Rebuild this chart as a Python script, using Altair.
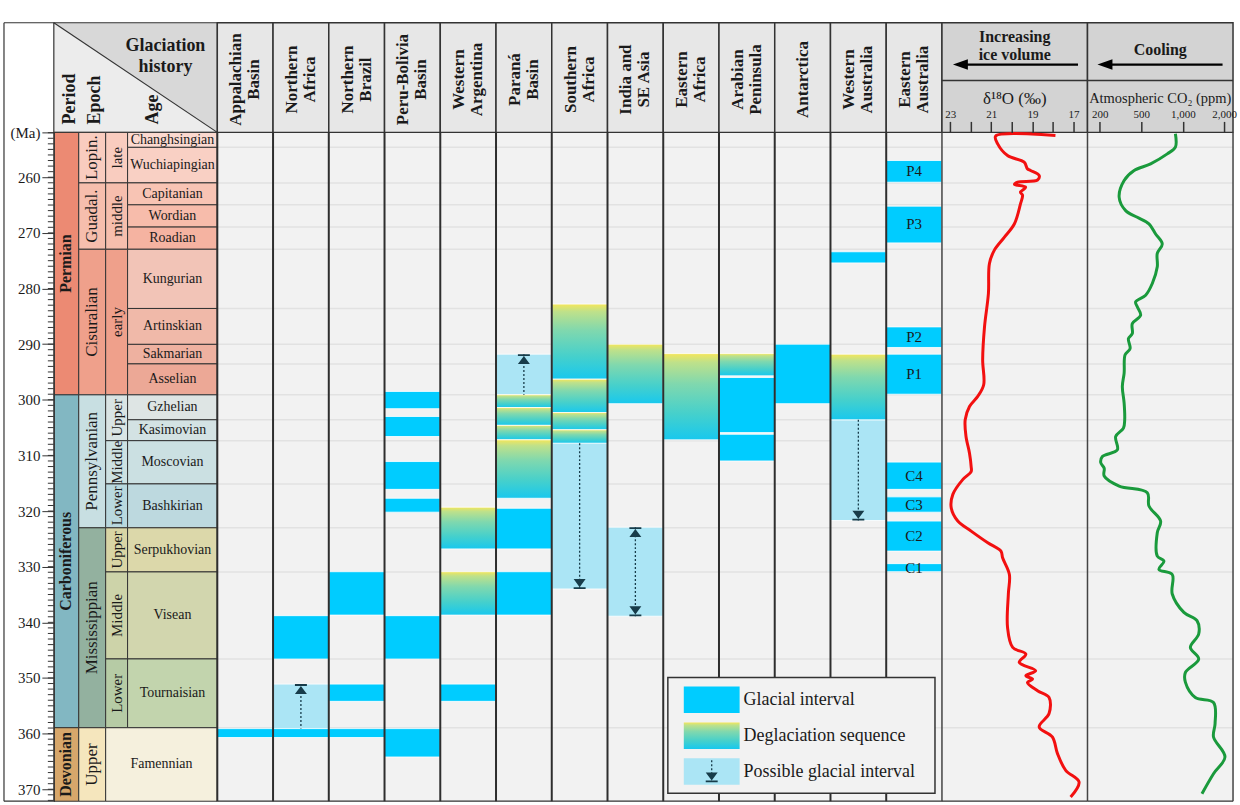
import altair as alt
import pandas as pd

SERIF = "Liberation Serif"
H = 671
HEAD_H = 110
W_STRAT = 164
W_REG = 727
W_CUR = 146
Y_DOMAIN = [251.94, 372.15]
INK = "#1a1a1a"
LINE = "#333333"
ARROW_C = "#173c4a"
GLACIAL = "#00ccff"
POSSIBLE = "#abe5f5"

# ---------------- chronostratigraphy (Ma) ----------------
PERIOD_NAMES = ["Permian", "Carboniferous", "Devonian"]
PERIOD_BOUNDS = [251.94, 299.11, 358.94, 372.15]
PERIOD_COLORS = ["#ec8a73", "#82b7c2", "#d7a76b"]

EPOCH_NAMES = ["Lopin.", "Guadal.", "Cisuralian", "Pennsylvanian", "Mississippian", "Upper"]
EPOCH_BOUNDS = [251.94, 261.02, 272.95, 299.11, 323.01, 358.94, 372.15]
EPOCH_COLORS = ["#f9ccbf", "#f6bead", "#efa08b", "#c8dfe2", "#93b19f", "#f5e6bd"]

SUB_NAMES = ["late", "middle", "early", "Upper", "Middle", "Lower", "Upper", "Middle", "Lower"]
SUB_BOUNDS = [251.94, 261.02, 272.95, 299.11, 307.35, 315.12, 323.01, 330.94, 346.58, 358.94]
SUB_COLORS = ["#f9ccbf", "#f6bead", "#efa08b", "#d9e4e4", "#cde1e2", "#b9d8de",
              "#d9d5a5", "#cdd3a9", "#b6cba5"]

AGE_NAMES = ["Changhsingian", "Wuchiapingian", "Capitanian", "Wordian", "Roadian",
             "Kungurian", "Artinskian", "Sakmarian", "Asselian", "Gzhelian", "Kasimovian",
             "Moscovian", "Bashkirian", "Serpukhovian", "Visean", "Tournaisian", "Famennian"]
AGE_BOUNDS = [251.94, 254.63, 261.02, 264.96, 268.96, 272.95, 283.59, 290.04, 293.55,
              299.11, 303.59, 307.35, 315.12, 323.01, 330.94, 346.58, 358.94, 372.15]
AGE_COLORS = ["#fbd9cf", "#f9d0c4", "#f8c4b4", "#f7bcab", "#f5b3a1", "#f2c4b7", "#f0b9a9",
              "#eeb1a0", "#eca896", "#dee5e4", "#d3e2e3", "#cbe0e2", "#bdd9df", "#dcd8aa",
              "#d2d6ae", "#c2d4ad", "#f5f0dd"]

Y_MAJOR = [252, 260, 270, 280, 290, 300, 310, 320, 330, 340, 350, 360, 370]
Y_MINOR = list(range(252, 373))

# ---------------- regions and glacial records ----------------
REGIONS = ["Appalachian Basin", "Northern Africa", "Northern Brazil", "Peru-Bolivia Basin",
           "Western Argentina", "Paraná Basin", "Southern Africa", "India and SE Asia",
           "Eastern Africa", "Arabian Peninsula", "Antarctica", "Western Australia",
           "Eastern Australia"]
REGION_LABELS = ["Appalachian\nBasin", "Northern\nAfrica", "Northern\nBrazil",
                 "Peru-Bolivia\nBasin", "Western\nArgentina", "Paraná\nBasin",
                 "Southern\nAfrica", "India and\nSE Asia", "Eastern\nAfrica",
                 "Arabian\nPeninsula", "Antarctica", "Western\nAustralia", "Eastern\nAustralia"]

# kind: G = glacial interval, D = deglaciation sequence, P = possible glacial interval
INT_REGION = ["Appalachian Basin",
              "Northern Africa", "Northern Africa", "Northern Africa",
              "Northern Brazil", "Northern Brazil", "Northern Brazil",
              "Peru-Bolivia Basin", "Peru-Bolivia Basin", "Peru-Bolivia Basin",
              "Peru-Bolivia Basin", "Peru-Bolivia Basin", "Peru-Bolivia Basin",
              "Western Argentina", "Western Argentina", "Western Argentina",
              "Paraná Basin", "Paraná Basin", "Paraná Basin", "Paraná Basin",
              "Paraná Basin", "Paraná Basin", "Paraná Basin",
              "Southern Africa", "Southern Africa", "Southern Africa", "Southern Africa",
              "Southern Africa",
              "India and SE Asia", "India and SE Asia",
              "Eastern Africa",
              "Arabian Peninsula", "Arabian Peninsula", "Arabian Peninsula",
              "Antarctica",
              "Western Australia", "Western Australia", "Western Australia",
              "Eastern Australia", "Eastern Australia", "Eastern Australia",
              "Eastern Australia", "Eastern Australia", "Eastern Australia",
              "Eastern Australia", "Eastern Australia"]
INT_KIND = ["G",
            "G", "P", "G",
            "G", "G", "G",
            "G", "G", "G", "G", "G", "G",
            "D", "D", "G",
            "P", "D", "D", "D", "D", "G", "G",
            "D", "D", "D", "D", "P",
            "D", "P",
            "D",
            "D", "G", "G",
            "G",
            "G", "D", "P",
            "G", "G", "G", "G", "G", "G", "G", "G"]
INT_TOP = [359.1,
           338.8, 351.1, 359.1,
           330.9, 351.1, 359.1,
           298.5, 303.0, 311.1, 317.7, 338.8, 359.1,
           319.3, 330.9, 351.1,
           291.8, 299.1, 301.4, 304.6, 307.2, 319.5, 330.9,
           282.8, 296.3, 302.3, 305.4, 307.8,
           290.0, 322.9,
           291.7,
           291.7, 296.0, 306.2,
           290.0,
           273.4, 291.8, 303.6,
           257.0, 265.2, 286.9, 291.8, 311.2, 317.45, 321.8, 329.45]
INT_BASE = [360.7,
            346.6, 359.1, 360.7,
            338.7, 354.2, 360.7,
            301.6, 306.6, 316.1, 320.2, 346.6, 364.2,
            326.8, 338.7, 354.2,
            299.1, 301.4, 304.6, 307.2, 317.7, 326.8, 338.7,
            296.3, 302.3, 305.4, 307.8, 334.0,
            300.7, 338.9,
            307.2,
            295.7, 305.9, 311.0,
            300.7,
            275.4, 303.6, 321.7,
            260.9, 271.8, 290.6, 299.0, 316.1, 320.2, 327.2, 330.9]
INT_LABEL = [""] * 38 + ["P4", "P3", "P2", "P1", "C4", "C3", "C2", "C1"]

ARROW_REGION = ["Northern Africa", "Paraná Basin", "Southern Africa", "India and SE Asia",
                "India and SE Asia", "Western Australia"]
ARROW_AGE = [351.1, 291.8, 334.0, 322.9, 338.9, 321.7]
ARROW_DIR = ["up", "up", "down", "up", "down", "down"]

LEGEND_LABELS = ["Glacial interval", "Deglaciation sequence", "Possible glacial interval"]

# ---------------- proxy curves ----------------
D18O_AGE = [252.5, 252.6, 254.0, 256.1, 257.3, 258.5, 258.8, 259.7, 260.5, 260.9, 261.3,
            261.8, 262.7, 263.2, 264.8, 268.4, 270.8, 273.1, 275.5, 280.9, 286.9, 292.8,
            297.3, 299.4, 301.2, 303.6, 306.6, 309.6, 312.0, 312.9, 314.3, 317.0, 319.4,
            321.8, 323.6, 325.7, 327.2, 328.4, 331.4, 334.9, 340.9, 344.5, 345.7, 347.2,
            348.7, 349.6, 350.2, 350.8, 352.3, 353.5, 356.4, 358.8, 360.6, 363.6, 366.6,
            368.7, 371.4]
D18O_VAL = [17.88, 20.79, 20.69, 20.21, 19.40, 19.24, 19.09, 18.67, 18.75, 19.72, 19.87,
            19.33, 19.58, 19.48, 19.58, 19.88, 20.37, 20.85, 21.09, 21.14, 21.33, 21.42,
            21.37, 21.66, 22.06, 22.27, 22.23, 22.06, 21.98, 21.98, 22.38, 22.87, 22.95,
            22.63, 21.98, 21.17, 20.53, 20.45, 20.12, 20.17, 20.21, 19.96, 19.32, 19.64,
            18.84, 19.32, 18.99, 19.24, 18.75, 18.19, 18.19, 18.67, 18.03, 17.78, 17.38,
            16.73, 17.14]

CO2_AGE = [252.2, 254.6, 255.8, 257.6, 258.8, 260.6, 263.6, 266.0, 267.2, 268.4, 270.2,
           272.0, 273.7, 276.1, 279.1, 281.2, 282.4, 283.3, 284.8, 286.3, 288.1, 289.0,
           290.8, 291.9, 295.2, 297.6, 300.6, 303.6, 305.1, 306.6, 309.0, 310.2, 311.3,
           312.3, 313.7, 315.5, 316.7, 319.1, 321.8, 323.9, 328.1, 329.0, 330.5, 331.4,
           334.9, 338.2, 339.7, 342.1, 344.5, 346.6, 349.0, 350.8, 353.5, 354.4, 358.2,
           360.6, 364.2, 367.2, 370.8]
CO2_VAL = [910, 910, 812, 612, 448, 376, 340, 387, 471, 592, 672, 752, 692, 692, 632, 552,
           459, 471, 495, 435, 435, 407, 419, 383, 376, 363, 376, 380, 371, 315, 327, 219,
           207, 232, 232, 340, 572, 592, 732, 692, 692, 772, 712, 872, 872, 1024, 1343,
           1384, 1182, 1384, 1062, 1062, 1302, 1744, 1782, 1744, 2022, 1744, 1463]

D18O_TICKS = [23, 22, 21, 20, 19, 18, 17]
CO2_TICKS = [200, 500, 1000, 2000]

# ---------------- helpers ----------------
one = pd.DataFrame({"k": [0]})


def ysc():
    return alt.Scale(domain=Y_DOMAIN, reverse=True, nice=False, zero=False)


def Y(field, axis=None):
    return alt.Y(f"{field}:Q", scale=ysc(), axis=axis)


reg_scale = alt.Scale(domain=REGIONS, paddingInner=0, paddingOuter=0)


def XR(**kw):
    return alt.X("region:N", scale=reg_scale, axis=None, **kw)


def hy(v):
    """header-band pixel position (header sits above the plot area)"""
    return v - HEAD_H


GRAD = alt.Gradient(
    gradient="linear", x1=0, x2=0, y1=0, y2=1,
    stops=[alt.GradientStop(color="#f4e65a", offset=0),
           alt.GradientStop(color="#bfe18a", offset=0.1),
           alt.GradientStop(color="#80d8ae", offset=0.35),
           alt.GradientStop(color="#45d0cc", offset=0.7),
           alt.GradientStop(color="#18c8ee", offset=1)])

DIAG = alt.Gradient(
    gradient="linear", x1=0, y1=1, x2=1, y2=0,
    stops=[alt.GradientStop(color="#ececec", offset=0),
           alt.GradientStop(color="#ececec", offset=0.5),
           alt.GradientStop(color="#d8d8d8", offset=0.5),
           alt.GradientStop(color="#d8d8d8", offset=1)])

PATH_UP = "M -1 -1 L 1 -1 L 1 -0.7 L -1 -0.7 Z M 0 -0.7 L 1 0.65 L -1 0.65 Z"
PATH_DOWN = "M -1 1 L 1 1 L 1 0.7 L -1 0.7 Z M 0 0.7 L 1 -0.65 L -1 -0.65 Z"
PATH_LEFT = "M -1 0 L 1 -0.7 L 1 0.7 Z"


def table(names, bounds, colors):
    return pd.DataFrame({"name": names, "top": bounds[:-1], "base": bounds[1:],
                         "color": colors})


def rule(x, y, x2=None, y2=None, color=LINE, width=1.2, dash=None):
    kw = dict(color=color, strokeWidth=width)
    if dash:
        kw["strokeDash"] = dash
    enc = dict(x=alt.value(x), y=alt.value(y))
    if x2 is not None:
        enc["x2"] = alt.value(x2)
    if y2 is not None:
        enc["y2"] = alt.value(y2)
    return alt.Chart(one).mark_rule(**kw).encode(**enc)


def box(x, x2, y, y2, fill, stroke=None, width=1.2):
    kw = dict(fill=fill)
    if stroke:
        kw["stroke"] = stroke
        kw["strokeWidth"] = width
    return alt.Chart(one).mark_rect(**kw).encode(
        x=alt.value(x), x2=alt.value(x2), y=alt.value(y), y2=alt.value(y2))


def txt(text, x, y, size, weight="normal", angle=0, align="center", baseline="middle", lh=None):
    kw = dict(font=SERIF, fontSize=size, fontWeight=weight, color=INK, angle=angle,
              align=align, baseline=baseline, lineBreak="\n")
    if lh:
        kw["lineHeight"] = lh
    return alt.Chart(one).mark_text(**kw).encode(
        x=alt.value(x), y=alt.value(y), text=alt.value(text))


period_df = table(PERIOD_NAMES, PERIOD_BOUNDS, PERIOD_COLORS)
epoch_df = table(EPOCH_NAMES, EPOCH_BOUNDS, EPOCH_COLORS)
sub_df = table(SUB_NAMES, SUB_BOUNDS, SUB_COLORS)
age_df = table(AGE_NAMES, AGE_BOUNDS, AGE_COLORS)
grid_df = pd.DataFrame({"b": AGE_BOUNDS[1:-1]})

y_axis = alt.Axis(values=Y_MAJOR,
                  labelExpr="datum.value === 252 ? '(Ma)' : (datum.value % 10 === 0 ? datum.label : '')",
                  tickSize=12, tickWidth=1, tickColor=LINE, domainColor=LINE, domainWidth=1.2,
                  labelFont=SERIF, labelFontSize=15, labelColor=INK, labelPadding=2,
                  labelOverlap=False, grid=False, title=None, zindex=1)


def cells(df, x0, x1, angle, size, weight, textx=None):
    rect = alt.Chart(df).mark_rect(stroke=LINE, strokeWidth=1).encode(
        x=alt.value(x0), x2=alt.value(x1), y=Y("top", y_axis), y2="base:Q",
        fill=alt.Fill("color:N", scale=None))
    t = alt.Chart(df).transform_calculate(mid="(datum.top + datum.base) / 2").mark_text(
        angle=angle, font=SERIF, fontSize=size, fontWeight=weight, color=INK,
        align="center", baseline="middle").encode(
        x=alt.value((x0 + x1) / 2 if textx is None else textx), y=Y("mid", y_axis),
        text="name:N")
    return [rect, t]


# ---------------- stratigraphic column (header + body) ----------------
strat_layers = [
    box(0, W_STRAT, hy(0), hy(HEAD_H), DIAG, LINE),
    rule(0, hy(0), W_STRAT, hy(HEAD_H)),
    txt("Glaciation\nhistory", 112, hy(23), 18, "bold", lh=21),
    txt("Period", 16, hy(102), 18, "bold", angle=270, align="left"),
    txt("Epoch", 41, hy(102), 18, "bold", angle=270, align="left"),
    txt("Age", 99.5, hy(102), 18, "bold", angle=270, align="left"),
    rule(-50, hy(0), y2=H),
    rule(-50, hy(0), x2=0),
    rule(-50, H, x2=0),
]
strat_layers.append(alt.Chart(pd.DataFrame({"t": Y_MINOR})).mark_rule(
    color=LINE, strokeWidth=1).encode(y=Y("t", y_axis), x=alt.value(-6), x2=alt.value(0)))
strat_layers += cells(period_df, 0, 25, 270, 16, "bold")
strat_layers += cells(epoch_df, 25, 52, 270, 17, "normal")
strat_layers += cells(sub_df, 52, 74, 270, 15, "normal")
strat_layers += cells(age_df.iloc[:-1], 74, 164, 0, 14, "normal")
strat_layers += cells(age_df.iloc[-1:], 52, 164, 0, 14, "normal")
strat_panel = alt.layer(*strat_layers).properties(width=W_STRAT, height=H)

# ---------------- regions (header + body) ----------------
int_df = pd.DataFrame({"region": INT_REGION, "kind": INT_KIND, "top": INT_TOP,
                       "base": INT_BASE, "label": INT_LABEL})
arrow_df = pd.DataFrame({"region": ARROW_REGION, "age": ARROW_AGE, "dir": ARROW_DIR})
reg_df = pd.DataFrame({"region": REGIONS, "label": REGION_LABELS})


def grid_layer(w):
    return alt.Chart(grid_df).mark_rule(color="#e2e2e2", strokeWidth=1.5).encode(
        y=Y("b"), x=alt.value(0), x2=alt.value(w))


def blocks(kind, fill):
    return alt.Chart(int_df).transform_filter(f"datum.kind === '{kind}'").mark_rect(
        fill=fill, stroke="white", strokeWidth=1, strokeOpacity=0.8).encode(
        x=XR(), y=Y("top"), y2="base:Q")


def head_labels(test, shift):
    return alt.Chart(reg_df).transform_filter(test).mark_text(
        font=SERIF, fontSize=17, fontWeight="bold", color=INK, angle=270, align="center",
        baseline="middle", lineBreak="\n", lineHeight=18, xOffset=shift).encode(
        x=XR(), y=alt.value(hy(57)), text="label:N")


reg_layers = [
    alt.Chart(reg_df).mark_rect(fill="#e7e7e7", stroke=LINE, strokeWidth=1.5).encode(
        x=XR(), y=alt.value(hy(0)), y2=alt.value(hy(HEAD_H))),
    head_labels("indexof(datum.label, '\\n') >= 0", -9),
    head_labels("indexof(datum.label, '\\n') < 0", 0),
    grid_layer(W_REG), blocks("P", POSSIBLE), blocks("G", GLACIAL), blocks("D", GRAD),
]
reg_layers.append(alt.Chart(int_df).transform_filter("datum.kind === 'P'").mark_rule(
    color=ARROW_C, strokeWidth=1.3, strokeDash=[2, 2]).encode(
    x=XR(), y=Y("top"), y2="base:Q"))
reg_layers.append(alt.Chart(arrow_df).transform_filter("datum.dir === 'up'").mark_point(
    shape=PATH_UP, filled=True, size=144, color=ARROW_C, opacity=1, yOffset=6).encode(
    x=XR(), y=Y("age")))
reg_layers.append(alt.Chart(arrow_df).transform_filter("datum.dir === 'down'").mark_point(
    shape=PATH_DOWN, filled=True, size=144, color=ARROW_C, opacity=1, yOffset=-6).encode(
    x=XR(), y=Y("age")))
reg_layers.append(alt.Chart(int_df).transform_filter("datum.label !== ''").transform_calculate(
    mid="(datum.top + datum.base) / 2").mark_text(
    font=SERIF, fontSize=15, color=INK, align="center", baseline="middle").encode(
    x=XR(), y=Y("mid"), text="label:N"))
reg_layers.append(alt.Chart(reg_df).mark_rule(color="#2e2e2e", strokeWidth=2).encode(
    x=XR(bandPosition=0), y=alt.value(0), y2=alt.value(H)))
reg_layers.append(rule(0, H, x2=W_REG))

# legend
reg_layers.append(box(452, 720, 547, 663, "#f2f2f2", LINE, 1.5))
for i, (lab, fill) in enumerate(zip(LEGEND_LABELS, [GLACIAL, GRAD, POSSIBLE])):
    y0 = 556 + 36 * i
    reg_layers.append(box(468, 524, y0, y0 + 26.5, fill))
    reg_layers.append(txt(lab, 528, y0 + 13.5, 18, align="left"))
reg_layers.append(rule(496, 630, y2=646, color=ARROW_C, width=1.3, dash=[2, 2]))
reg_layers.append(alt.Chart(one).mark_point(
    shape=PATH_DOWN, filled=True, size=144, color=ARROW_C, opacity=1).encode(
    x=alt.value(496), y=alt.value(646)))
reg_panel = alt.layer(*reg_layers).properties(width=W_REG, height=H)

# ---------------- proxy curves (header + body) ----------------
d18_df = pd.DataFrame({"age": D18O_AGE, "val": D18O_VAL, "i": range(len(D18O_AGE))})
co2_df = pd.DataFrame({"age": CO2_AGE, "val": CO2_VAL, "i": range(len(CO2_AGE))})


def curve_axis(values, expr):
    return alt.Axis(orient="top", values=values, labelExpr=expr, tickSize=11, tickWidth=1.5,
                    tickColor=LINE, labelFont=SERIF, labelFontSize=11, labelColor=INK,
                    labelPadding=2, domain=False, grid=False, title=None,
                    labelOverlap=False, zindex=1)


def curve_head(title, title_y, lh, arrow_x, label, label_size):
    return [
        box(0, W_CUR, hy(0), hy(HEAD_H), "#d3d3d3", LINE, 1.5),
        rule(0, hy(58), x2=W_CUR, width=1.5),
        txt(title, 73, hy(title_y), 16, "bold", lh=lh),
        rule(arrow_x, hy(42), x2=arrow_x + 118, color="#000", width=2.2),
        alt.Chart(one).mark_point(shape=PATH_LEFT, filled=True, size=225, color="#000",
                                  opacity=1).encode(x=alt.value(arrow_x), y=alt.value(hy(42))),
        txt(label, 73, hy(76.5), label_size),
    ]


def borders(right=False):
    out = [rule(0, 0, y2=H, color="#444", width=1.5), rule(0, H, x2=W_CUR)]
    if right:
        out.append(rule(W_CUR, 0, y2=H, color="#444", width=1.5))
    return out


d18_line = alt.Chart(d18_df).mark_line(color="#f21010", strokeWidth=3,
                                       interpolate="catmull-rom").encode(
    x=alt.X("val:Q", scale=alt.Scale(domain=[16.32, 23.40], reverse=True, nice=False, zero=False),
            axis=curve_axis(D18O_TICKS, "datum.value % 2 === 1 ? datum.label : ''")),
    y=Y("age"), order="i:Q")
d18_panel = alt.layer(
    *curve_head("Increasing\nice volume", 14, 18.5, 18.5, "δ¹⁸O (‰)", 17),
    grid_layer(W_CUR), d18_line, *borders()).properties(width=W_CUR, height=H)

co2_line = alt.Chart(co2_df).mark_line(color="#1a9a3c", strokeWidth=3,
                                       interpolate="catmull-rom").encode(
    x=alt.X("val:Q", scale=alt.Scale(domain=[111, 200, 500, 1000, 2000, 2216],
                                     range=[0, 12.3, 54, 95.7, 137, 146], nice=False, zero=False),
            axis=curve_axis(CO2_TICKS, "format(datum.value, ',')")),
    y=Y("age"), order="i:Q")
co2_panel = alt.layer(
    *curve_head("Cooling", 27, None, 17.5, "Atmospheric CO₂ (ppm)", 14.5),
    grid_layer(W_CUR), co2_line, *borders(True)).properties(width=W_CUR, height=H)

chart = alt.hconcat(strat_panel, reg_panel, d18_panel, co2_panel, spacing=0,
                    bounds="flush").properties(
    padding={"left": 2, "top": 19.5, "right": 3, "bottom": 3},
    background="white",
).configure_view(stroke="transparent", fill="#f2f2f2")

chart.save("out.html", embed_options={"renderer": "svg", "actions": False})
